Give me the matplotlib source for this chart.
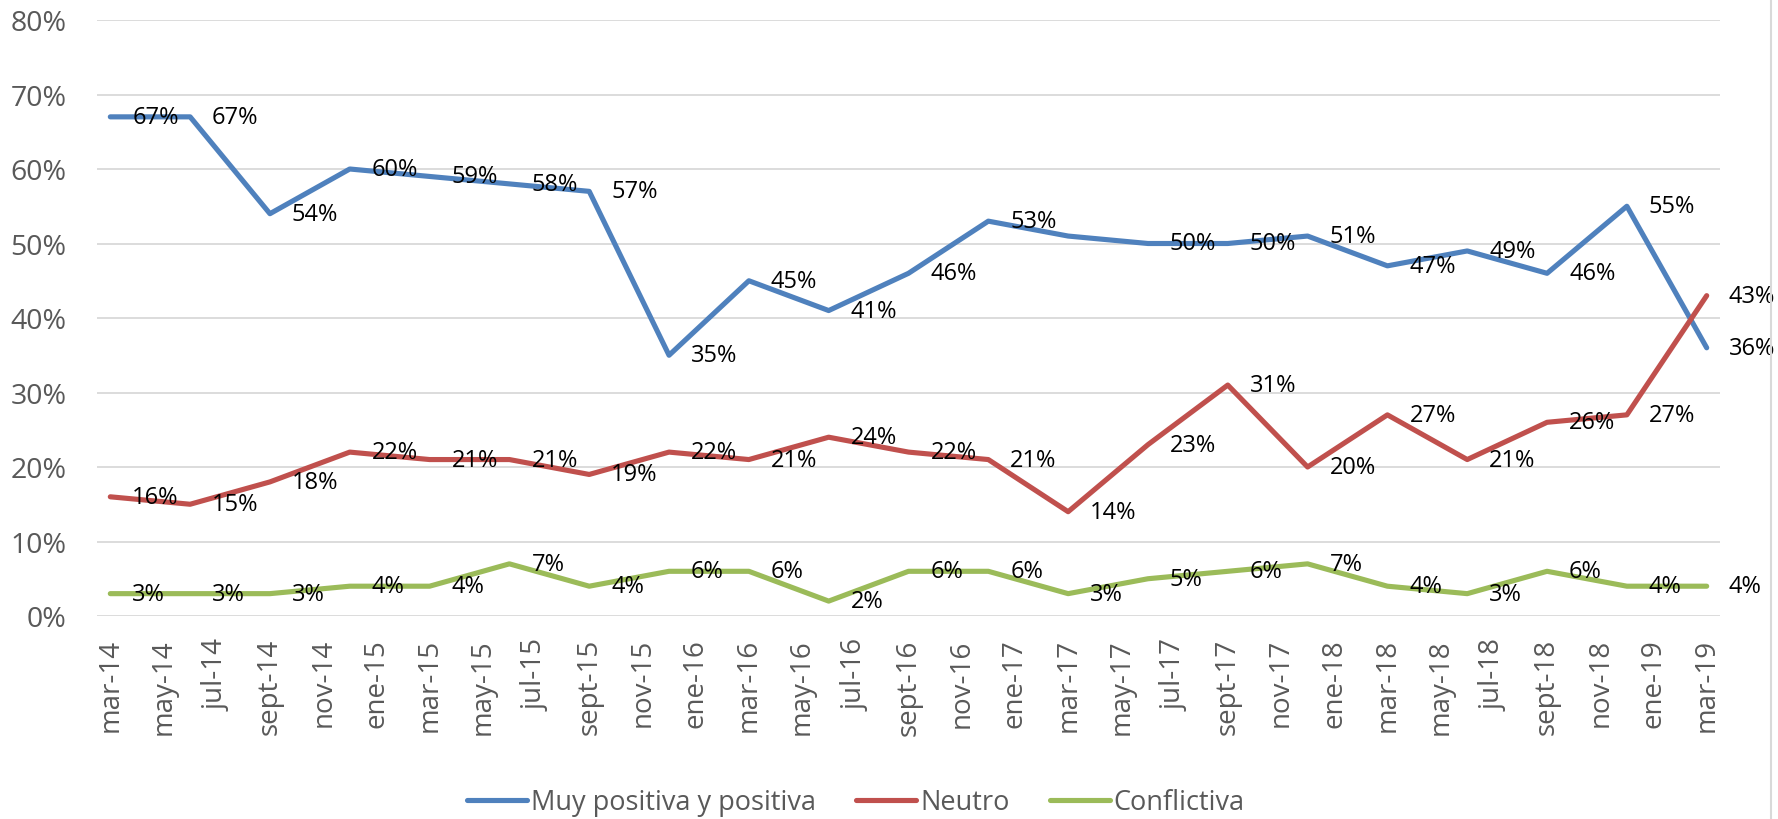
import matplotlib
matplotlib.use("Agg")
import matplotlib.pyplot as plt
from matplotlib.lines import Line2D
from matplotlib.ticker import FuncFormatter

plt.rcParams['font.family'] = ['Open Sans', 'DejaVu Sans']

# fechas de cada medicion (trimestral)
fechas = ["2014-03", "2014-06", "2014-09", "2014-12",
          "2015-03", "2015-06", "2015-09", "2015-12",
          "2016-03", "2016-06", "2016-09", "2016-12",
          "2017-03", "2017-06", "2017-09", "2017-12",
          "2018-03", "2018-06", "2018-09", "2018-12",
          "2019-03"]

# etiquetas del eje x (cada dos meses)
etiquetas_eje = ["mar-14", "may-14", "jul-14", "sept-14", "nov-14",
                 "ene-15", "mar-15", "may-15", "jul-15", "sept-15", "nov-15",
                 "ene-16", "mar-16", "may-16", "jul-16", "sept-16", "nov-16",
                 "ene-17", "mar-17", "may-17", "jul-17", "sept-17", "nov-17",
                 "ene-18", "mar-18", "may-18", "jul-18", "sept-18", "nov-18",
                 "ene-19", "mar-19"]

muy_positiva = [67, 67, 54, 60, 59, 58, 57, 35, 45, 41, 46, 53, 51, 50, 50, 51, 47, 49, 46, 55, 36]
neutro = [16, 15, 18, 22, 21, 21, 19, 22, 21, 24, 22, 21, 14, 23, 31, 20, 27, 21, 26, 27, 43]
conflictiva = [3, 3, 3, 4, 4, 7, 4, 6, 6, 2, 6, 6, 3, 5, 6, 7, 4, 3, 6, 4, 4]

series = [("Muy positiva y positiva", muy_positiva, "#4F81BD"),
          ("Neutro", neutro, "#C0504D"),
          ("Conflictiva", conflictiva, "#9BBB59")]

# etiquetas que no se muestran en el original
ocultas = {"Muy positiva y positiva": [12]}

# meses desde mar-14
x = [(int(f[:4]) - 2014) * 12 + int(f[5:]) - 3 for f in fechas]

fig = plt.figure(figsize=(17.78, 8.2), dpi=100)
ax = fig.add_axes([97 / 1778, 203 / 820, 1623 / 1778, 596 / 820])

for nombre, valores, color in series:
    ax.plot(x, valores, color=color, lw=3.7, label=nombre, solid_capstyle='round', zorder=3)
    for i, (xi, v) in enumerate(zip(x, valores)):
        if i in ocultas.get(nombre, []):
            continue
        ax.annotate(f"{v}%", (xi, v), xytext=(22, 0), textcoords='offset pixels',
                    ha='left', va='center', fontsize=17, color='black', zorder=4,
                    annotation_clip=False)

ax.set_xlim(-0.5, 60.5)
ax.set_ylim(0, 80)
ax.set_yticks(range(0, 81, 10))
ax.yaxis.set_major_formatter(FuncFormatter(lambda v, p: f"{int(v)}%"))
ax.set_xticks(range(0, 61, 2))
ax.set_xticklabels(etiquetas_eje, rotation=90)
ax.tick_params(axis='y', length=0, pad=22, labelsize=20.5, labelcolor='#595959')
ax.tick_params(axis='x', length=0, pad=16, labelsize=20, labelcolor='#595959')
for s in ax.spines.values():
    s.set_visible(False)
ax.grid(axis='y', color='#D9D9D9', lw=1.3)
ax.set_axisbelow(True)

fig.legend(loc='center', bbox_to_anchor=(856 / 1778, 17 / 820), ncol=3, frameon=False,
           fontsize=19.5, labelcolor='#595959', handlelength=2.2, handletextpad=0.15,
           columnspacing=1.5)

fig.add_artist(Line2D([1771 / 1778] * 2, [0, 1], color='#D9D9D9', lw=1.5,
                      transform=fig.transFigure))

fig.savefig("out.png", dpi=100)
